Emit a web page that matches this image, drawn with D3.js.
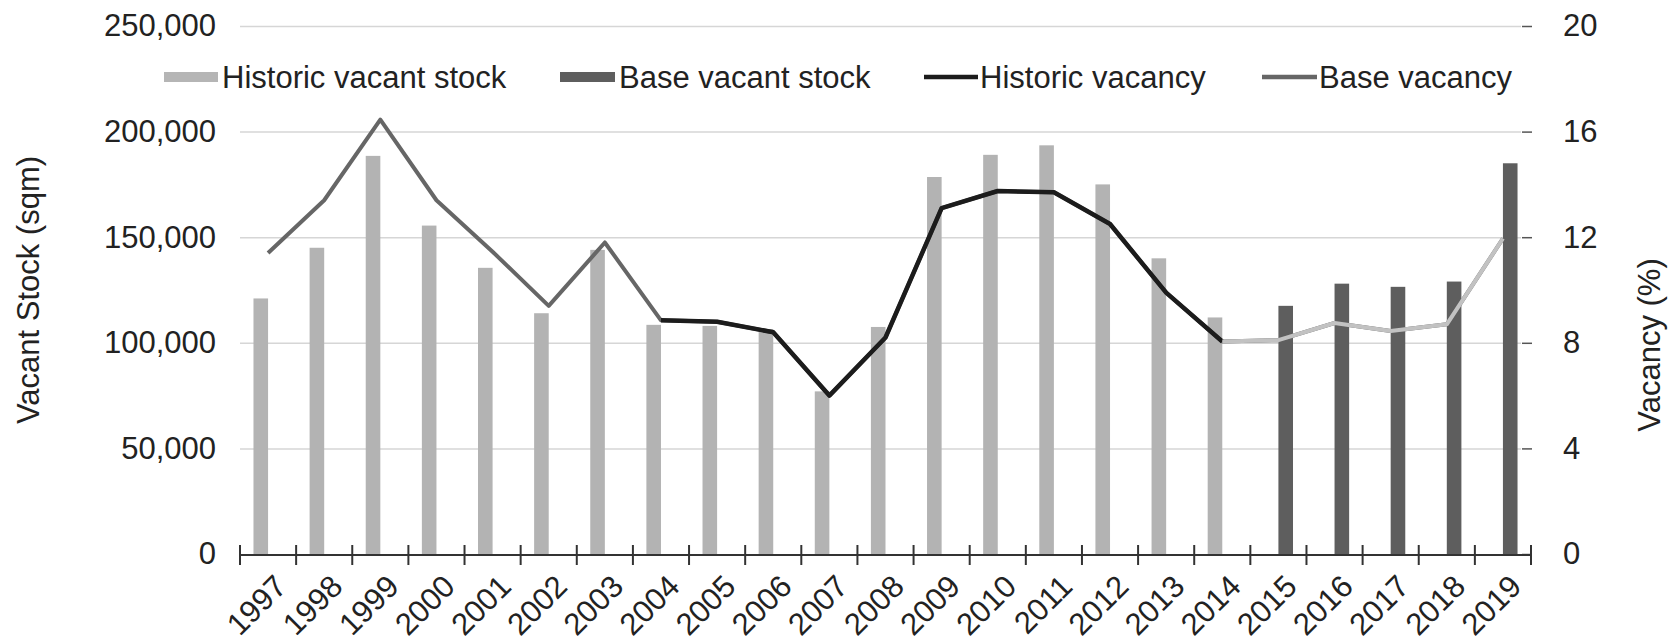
<!DOCTYPE html>
<meta charset="utf-8">
<style>
body { margin: 0; background: #fff; }
svg text { font-family: Arial, "Liberation Sans", sans-serif; fill: #222; }
.tick text { font-size: 31px; }
.grid line { stroke: #d6d6d6; stroke-width: 1.5px; }
.grid .domain { display: none; }
</style>
<html>
  <head>
    <script src="https://cdn.jsdelivr.net/npm/d3@7"></script>
  </head>
  <body>
<script>
var width = 1674, height = 644;

// years on the category axis
var years = d3.range(1997, 2020);

// vacant stock (sqm) - historic to 2014, base forecast from 2015
var historicStock = [121000, 145000, 188500, 155500, 135500, 114000, 144000, 108500, 108000, 106500,
                     77000, 107500, 178500, 189000, 193500, 175000, 140000, 112000,
                     null, null, null, null, null];
var baseStock = [null, null, null, null, null, null, null, null, null, null, null, null,
                 null, null, null, null, null, null,
                 117500, 128000, 126500, 129000, 185000];

// vacancy (%)
var historicVacancy = [null, null, null, null, null, null, null,
                       8.85, 8.8, 8.4, 6.0, 8.2, 13.1, 13.75, 13.7, 12.5, 9.9, 8.05,
                       null, null, null, null, null];
var baseVacancy = [11.4, 13.4, 16.45, 13.4, 11.45, 9.4, 11.8,
                   8.85, 8.8, 8.4, 6.0, 8.2, 13.1, 13.75, 13.7, 12.5, 9.9, 8.05,
                   8.1, 8.75, 8.45, 8.7, 11.95];
var forecastFrom = 2014;

var leftTicks = [0, 50000, 100000, 150000, 200000, 250000];
var rightTicks = [0, 4, 8, 12, 16, 20];

var legendItems = [
  {label: "Historic vacant stock", kind: "bar", color: "#b5b5b5", x: 164, tx: 222},
  {label: "Base vacant stock", kind: "bar", color: "#5e5e5e", x: 560, tx: 619},
  {label: "Historic vacancy", kind: "line", color: "#1c1c1c", x: 924, tx: 980},
  {label: "Base vacancy", kind: "line", color: "#666", x: 1262, tx: 1319}
];

var plotLeft = 240, plotRight = 1531, y0 = 554, yTop = 26;

var svg = d3.select("body").append("svg")
    .attr("width", width)
    .attr("height", height);

var x = d3.scaleBand().domain(years).range([plotLeft, plotRight]).padding(0);
var yStock = d3.scaleLinear().domain([0, 250000]).range([y0, yTop]);
var yVac = d3.scaleLinear().domain([0, 20]).range([y0, yTop]);
var barW = x.bandwidth() * 0.26;

// gridlines
svg.append("g")
    .attr("class", "grid")
    .attr("transform", "translate(" + plotLeft + ",0)")
    .call(d3.axisLeft(yStock).tickValues(leftTicks.slice(1)).tickSize(-(plotRight - 10 - plotLeft)).tickFormat(""));

// left axis labels
var la = svg.append("g")
    .attr("transform", "translate(216,0)")
    .call(d3.axisLeft(yStock).tickValues(leftTicks).tickSize(0).tickPadding(0).tickFormat(d3.format(",")));
la.select(".domain").remove();

// right axis
var ra = svg.append("g")
    .attr("transform", "translate(" + (plotRight + 1) + ",0)")
    .call(d3.axisRight(yVac).tickValues(rightTicks).tickSize(-10).tickPadding(31));
ra.select(".domain").remove();
ra.selectAll(".tick line").attr("stroke", "#555").attr("stroke-width", 1.5);

// bars
svg.append("g").selectAll("rect")
    .data(years.filter(function(d, i) { return historicStock[i] != null; }))
  .enter().append("rect")
    .attr("x", function(d) { return x(d) + x.bandwidth() / 2 - barW; })
    .attr("width", barW)
    .attr("y", function(d) { return yStock(historicStock[years.indexOf(d)]); })
    .attr("height", function(d) { return y0 - yStock(historicStock[years.indexOf(d)]); })
    .attr("fill", "#b3b3b3");

svg.append("g").selectAll("rect")
    .data(years.filter(function(d, i) { return baseStock[i] != null; }))
  .enter().append("rect")
    .attr("x", function(d) { return x(d) + x.bandwidth() / 2; })
    .attr("width", barW)
    .attr("y", function(d) { return yStock(baseStock[years.indexOf(d)]); })
    .attr("height", function(d) { return y0 - yStock(baseStock[years.indexOf(d)]); })
    .attr("fill", "#5e5e5e");

// vacancy lines
var line = d3.line()
    .defined(function(d) { return d.v != null; })
    .x(function(d) { return x(d.year) + x.bandwidth() / 2; })
    .y(function(d) { return yVac(d.v); });

var basePts = years.map(function(d, i) { return {year: d, v: baseVacancy[i]}; });
var histPts = years.map(function(d, i) { return {year: d, v: historicVacancy[i]}; });

svg.append("path").datum(basePts)
    .attr("d", line).attr("fill", "none")
    .attr("stroke", "#666").attr("stroke-width", 4).attr("stroke-linejoin", "round");

svg.append("path").datum(histPts)
    .attr("d", line).attr("fill", "none")
    .attr("stroke", "#1c1c1c").attr("stroke-width", 4.5).attr("stroke-linejoin", "round");

svg.append("path").datum(basePts.filter(function(d) { return d.year >= forecastFrom; }))
    .attr("d", line).attr("fill", "none")
    .attr("stroke", "#c2c2c2").attr("stroke-width", 4).attr("stroke-linejoin", "round");

// x axis: line, boundary ticks, rotated labels
svg.append("line")
    .attr("x1", plotLeft).attr("x2", plotRight)
    .attr("y1", y0 + 1).attr("y2", y0 + 1)
    .attr("stroke", "#333").attr("stroke-width", 2);

svg.append("g").selectAll("line")
    .data(d3.range(years.length + 1))
  .enter().append("line")
    .attr("x1", function(i) { return plotLeft + i * x.step(); })
    .attr("x2", function(i) { return plotLeft + i * x.step(); })
    .attr("y1", y0 - 9).attr("y2", y0 + 11)
    .attr("stroke", "#333").attr("stroke-width", 2);

var xa = svg.append("g")
    .attr("transform", "translate(0," + (y0 + 19) + ")")
    .call(d3.axisBottom(x).tickSize(0).tickPadding(0));
xa.select(".domain").remove();
xa.selectAll(".tick text")
    .attr("text-anchor", "end")
    .attr("dy", "0.7em")
    .attr("transform", "translate(5,0) rotate(-45)");

// axis titles
svg.append("text")
    .attr("transform", "translate(39,290) rotate(-90)")
    .attr("text-anchor", "middle")
    .style("font-size", "31px")
    .text("Vacant Stock (sqm)");

svg.append("text")
    .attr("transform", "translate(1660,345) rotate(-90)")
    .attr("text-anchor", "middle")
    .style("font-size", "31px")
    .text("Vacancy (%)");

// legend
var lg = svg.append("g").selectAll("g")
    .data(legendItems)
  .enter().append("g");

lg.filter(function(d) { return d.kind == "bar"; }).append("rect")
    .attr("x", function(d) { return d.x; }).attr("y", 72)
    .attr("width", function(d) { return d.tx - d.x - 4; }).attr("height", 10)
    .attr("fill", function(d) { return d.color; });

lg.filter(function(d) { return d.kind == "line"; }).append("line")
    .attr("x1", function(d) { return d.x; }).attr("x2", function(d) { return d.tx - 2; })
    .attr("y1", 77).attr("y2", 77)
    .attr("stroke", function(d) { return d.color; }).attr("stroke-width", 4.5);

lg.append("text")
    .attr("x", function(d) { return d.tx; })
    .attr("y", 88)
    .style("font-size", "31px")
    .text(function(d) { return d.label; });
</script>
  </body>
</html>
